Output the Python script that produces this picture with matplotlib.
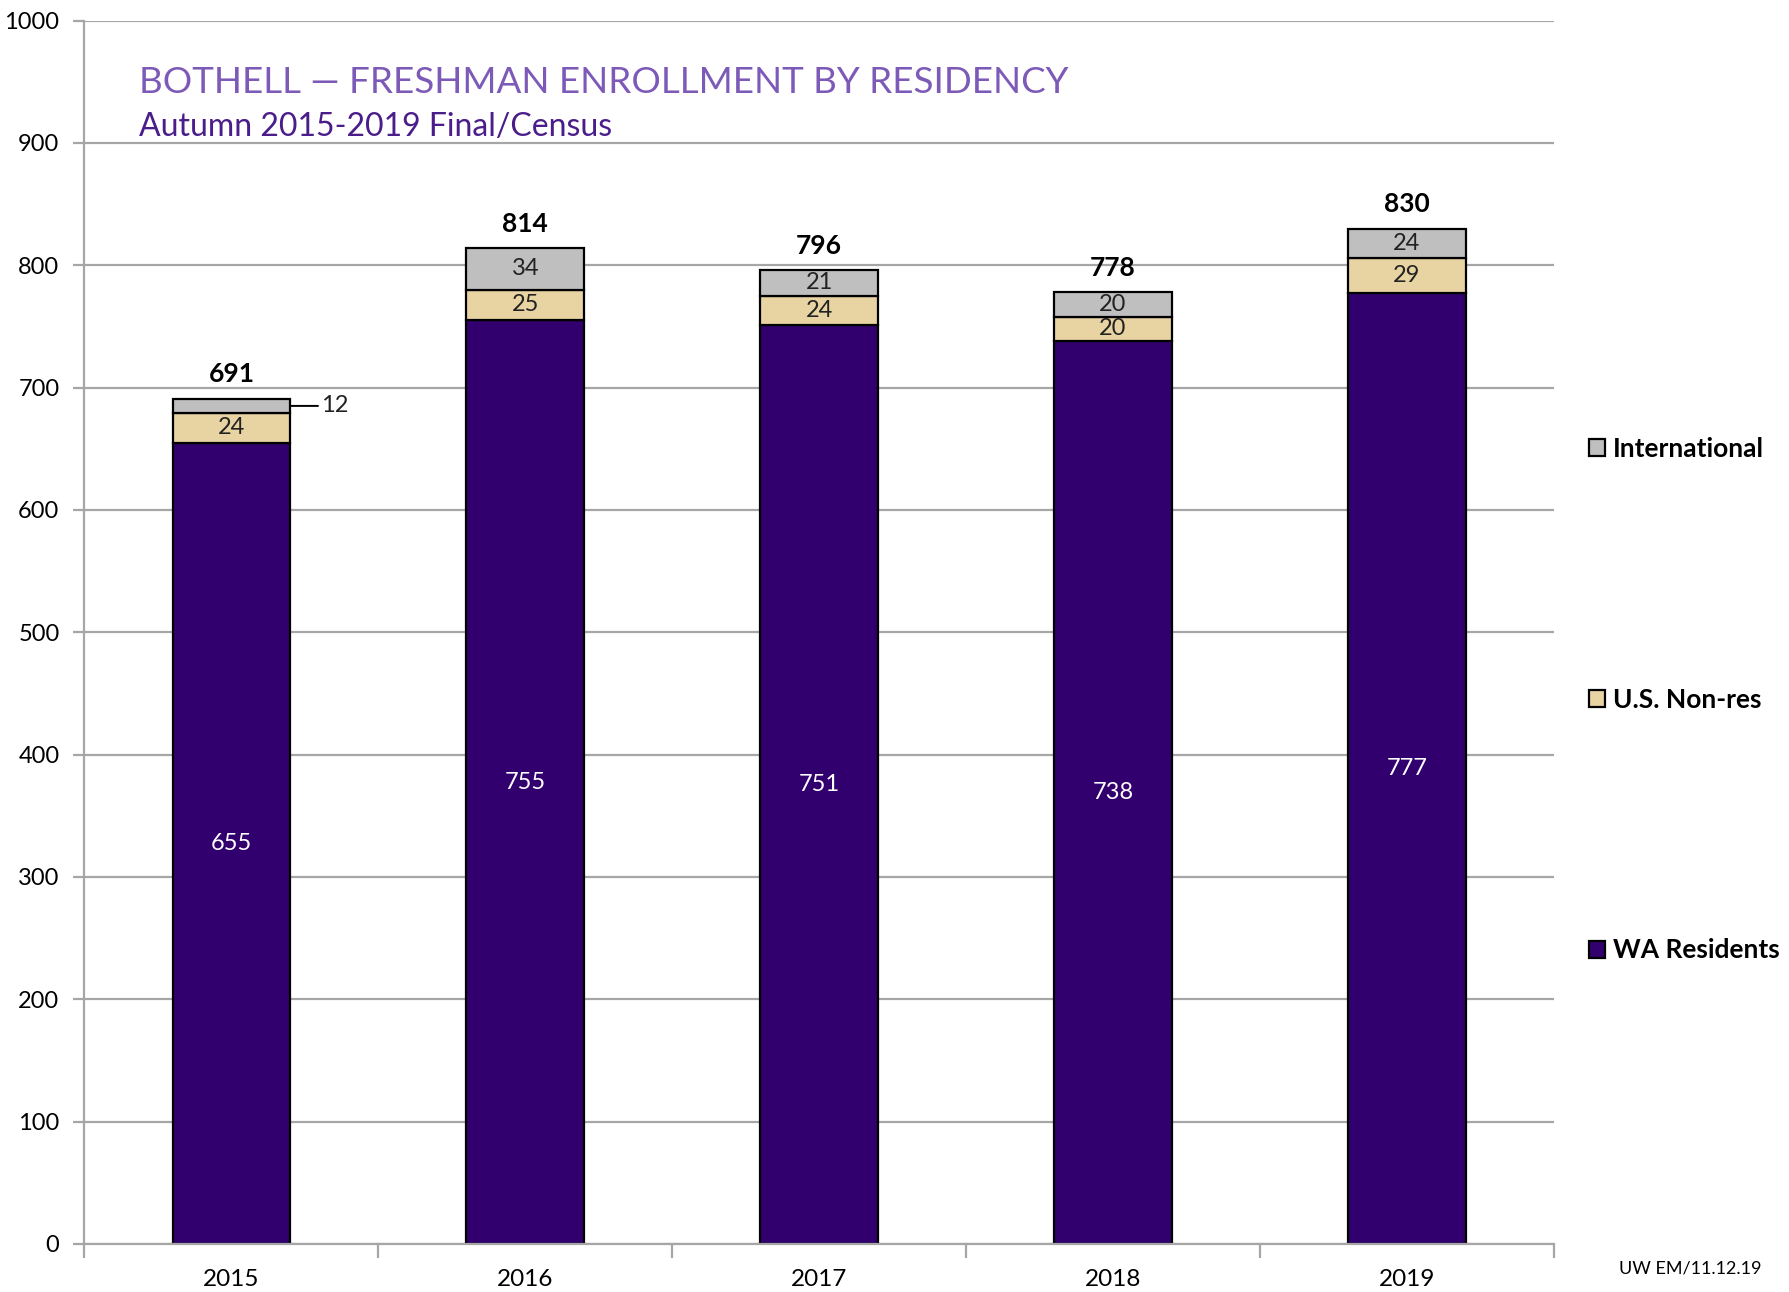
import matplotlib
matplotlib.use("Agg")
import matplotlib.pyplot as plt
from matplotlib.patches import Patch
import numpy as np

years = ["2015", "2016", "2017", "2018", "2019"]
wa_residents = [655, 755, 751, 738, 777]
us_nonres = [24, 25, 24, 20, 29]
international = [12, 34, 21, 20, 24]

purple = "#32006e"
gold = "#e8d3a2"
grey = "#bfbfbf"
grid_col = "#a6a6a6"

plt.rcParams["font.family"] = ["Lato", "DejaVu Sans"]

fig = plt.figure(figsize=(17.9, 12.92), dpi=100)
ax = fig.add_axes([0.0472, 0.0372, 0.8208, 0.9469])

x = np.arange(len(years))
w = 0.4
wa = np.array(wa_residents)
us = np.array(us_nonres)
intl = np.array(international)
totals = wa + us + intl

ax.set_axisbelow(True)
ax.yaxis.grid(True, color=grid_col, linewidth=1.6)
ax.bar(x, wa, w, color=purple, edgecolor="black", linewidth=1.6)
ax.bar(x, us, w, bottom=wa, color=gold, edgecolor="black", linewidth=1.6)
ax.bar(x, intl, w, bottom=wa + us, color=grey, edgecolor="black", linewidth=1.6)

for i in range(len(years)):
    ax.text(x[i], wa[i] / 2, str(wa[i]), ha="center", va="center", color="white", fontsize=17)
    ax.text(x[i], wa[i] + us[i] / 2, str(us[i]), ha="center", va="center", color="#222222", fontsize=17)
    if intl[i] >= 15:
        ax.text(x[i], wa[i] + us[i] + intl[i] / 2, str(intl[i]), ha="center", va="center",
                color="#222222", fontsize=17)
    else:
        ax.annotate(str(intl[i]), xy=(x[i] + w / 2, wa[i] + us[i] + intl[i] / 2),
                    xytext=(22, 0), textcoords="offset points", ha="left", va="center",
                    fontsize=17, color="#222222",
                    arrowprops=dict(arrowstyle="-", color="black", lw=1.4, shrinkA=0, shrinkB=0))
    ax.annotate(str(totals[i]), xy=(x[i], totals[i]), xytext=(0, 9), textcoords="offset points",
                ha="center", va="bottom", fontsize=19, fontweight="bold")

ax.set_xlim(-0.5, len(years) - 0.5)
ax.set_ylim(0, 1000)
ax.set_yticks(np.arange(0, 1001, 100))
ax.set_xticks(x)
ax.set_xticklabels(years)
ax.set_xticks(np.arange(-0.5, len(years), 1), minor=True)
ax.tick_params(axis="x", which="major", length=0, pad=18, labelsize=17.5)
ax.tick_params(axis="x", which="minor", length=10, width=1.6, color=grid_col)
ax.tick_params(axis="y", length=8, width=1.6, color=grid_col, labelsize=17, pad=10)
for s in ["top", "right"]:
    ax.spines[s].set_visible(False)
for s in ["left", "bottom"]:
    ax.spines[s].set_color(grid_col)
    ax.spines[s].set_linewidth(1.6)

ax.text(0.037, 0.949, "BOTHELL \u2014 FRESHMAN ENROLLMENT BY RESIDENCY", transform=ax.transAxes,
        fontsize=26.5, fontweight="normal", color="#7d5ab8", va="center")
ax.text(0.037, 0.913, "Autumn 2015-2019 Final/Census", transform=ax.transAxes,
        fontsize=23, color="#4b1d8a", va="center")

handles = [Patch(facecolor=grey, edgecolor="black", linewidth=1.6, label="International"),
           Patch(facecolor=gold, edgecolor="black", linewidth=1.6, label="U.S. Non-res"),
           Patch(facecolor=purple, edgecolor="black", linewidth=1.6, label="WA Residents")]
ax.legend(handles=handles, loc="center left", bbox_to_anchor=(1.017, 0.445), frameon=False,
          prop={"size": 19, "weight": "bold"}, handlelength=0.6, handleheight=0.6,
          handletextpad=0.3, labelspacing=8.6, borderaxespad=0)

fig.text(0.944, 0.018, "UW EM/11.12.19", fontsize=13, ha="center", va="center")

fig.savefig("out.png", dpi=100)
